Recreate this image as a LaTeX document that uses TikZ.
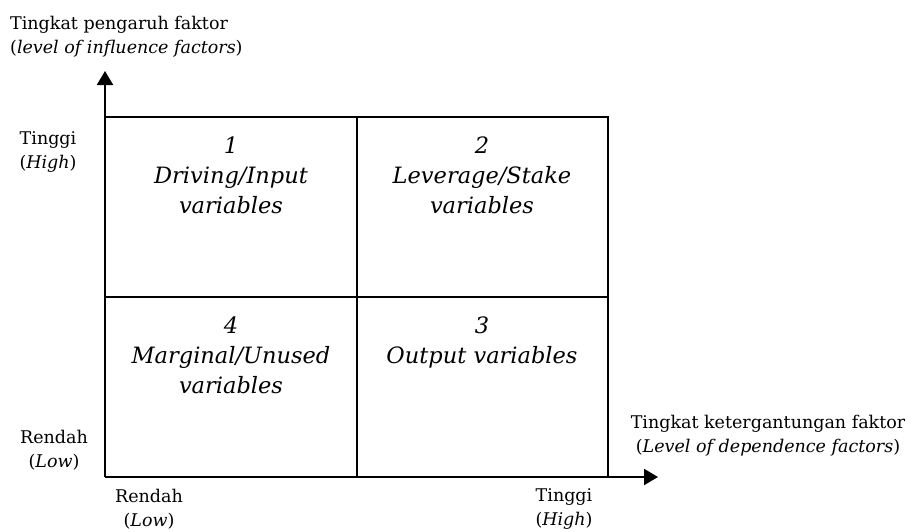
\documentclass[tikz,border=0pt]{standalone}
\usepackage{fontspec}
\setmainfont{DejaVu Serif}
\usetikzlibrary{arrows.meta}
\begin{document}
\begin{tikzpicture}[x=1pt,y=-1pt,
  gridline/.style={line width=2.2pt},
  axis/.style={line width=2.2pt,-{Triangle[length=14pt,width=16pt]}},
  lbl/.style={font=\fontsize{17.5}{23.5}\selectfont,align=center,inner sep=0pt,anchor=base},
  quad/.style={font=\fontsize{22.5}{30}\selectfont\itshape,align=center,inner sep=0pt,anchor=base}]
\useasboundingbox (0,0) rectangle (914,531);
\coordinate (O) at (105,477);
\coordinate (ytip) at (105,71);
\coordinate (xtip) at (658,477);
\coordinate (TL) at (105,117);
\coordinate (TR) at (608,117);
\coordinate (BR) at (608,477);
\coordinate (TM) at (357,117);
\coordinate (BM) at (357,477);
\coordinate (ML) at (105,297);
\coordinate (MR) at (608,297);
% grid
\draw[gridline] (TL) -- (TR) -- (BR);
\draw[gridline] (TM) -- (BM);
\draw[gridline] (ML) -- (MR);
% axes
\draw[axis] (O) -- (ytip);
\draw[axis] (O) -- (xtip);
% quadrant labels (anchor = baseline of last line)
\node[quad] (q1) at (231,213) {1\\Driving/Input\\variables};
\node[quad] (q2) at (482,213) {2\\Leverage/Stake\\variables};
\node[quad] (q4) at (231,393) {4\\Marginal/Unused\\variables};
\node[quad] (q3) at (482,363) {3\\Output variables};
% axis labels
\node[lbl,align=left,anchor=base west] (ylab) at (10,53) {Tingkat pengaruh faktor\\(\textit{level of influence factors})};
\node[lbl] (xlab) at (768,452) {Tingkat ketergantungan faktor\\(\textit{Level of dependence factors})};
\node[lbl] (yhigh) at (48,168) {Tinggi\\(\textit{High})};
\node[lbl] (ylow) at (54,467) {Rendah\\(\textit{Low})};
\node[lbl] (xlow) at (149,526) {Rendah\\(\textit{Low})};
\node[lbl] (xhigh) at (564,525) {Tinggi\\(\textit{High})};
\end{tikzpicture}
\end{document}
